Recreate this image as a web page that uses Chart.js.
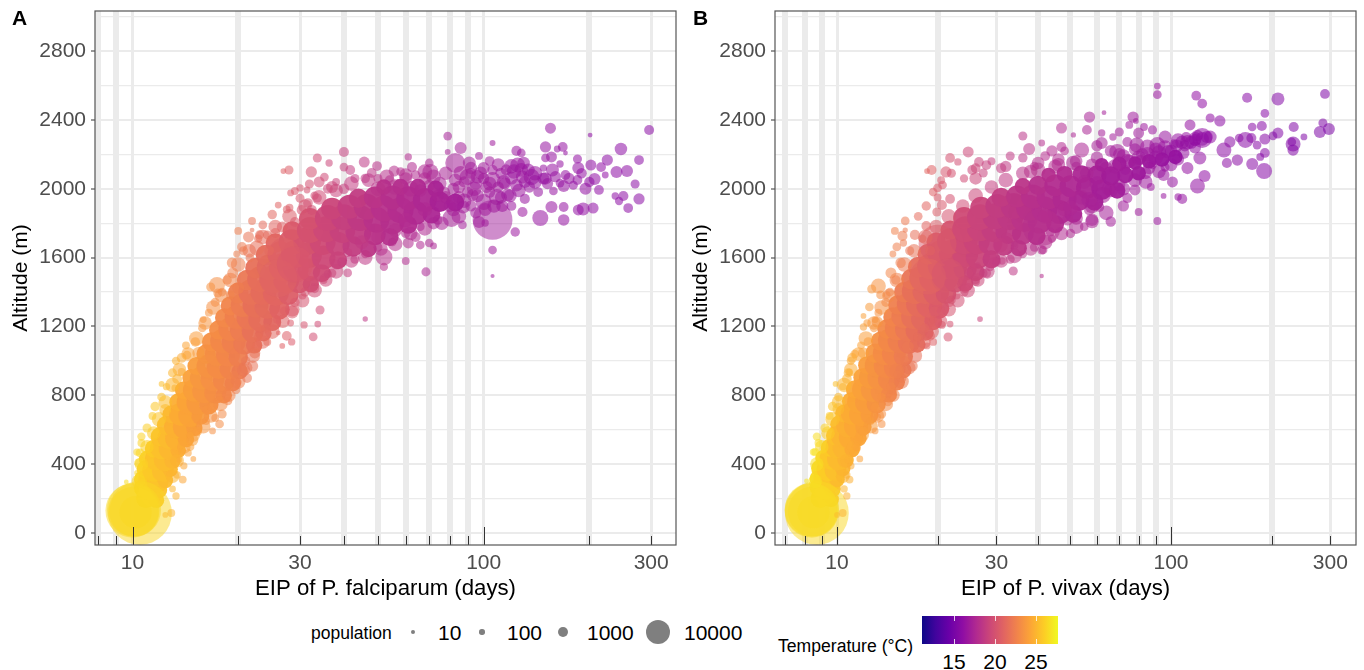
<!DOCTYPE html>
<html>
<head>
<meta charset="utf-8">
<title>EIP and altitude</title>
<script src="https://cdn.jsdelivr.net/npm/chart.js@4/dist/chart.umd.min.js"></script>
<style>
  html, body { margin: 0; padding: 0; background: #fff; }
  body { width: 1364px; height: 670px; position: relative; overflow: hidden; font-family: "Liberation Sans", Arial, sans-serif; color: #000; }
  canvas { position: absolute; top: 0; }
  #mpA { left: 0; }
  #mpB { left: 680px; }
  .tag { position: absolute; top: 7px; font-size: 21px; font-weight: bold; line-height: 22px; }
  .txt { position: absolute; white-space: nowrap; line-height: 24px; }
  .dot { position: absolute; border-radius: 50%; background: rgba(0,0,0,0.5); }
  #bar { position: absolute; left: 922px; top: 616px; width: 136px; height: 28px; }
  .barTick { position: absolute; width: 1px; height: 5px; background: rgba(255,255,255,0.8); }
</style>
</head>
<body>
<canvas id="mpA" width="680" height="605"></canvas>
<canvas id="mpB" width="680" height="605"></canvas>
<div class="tag" style="left:12px">A</div>
<div class="tag" style="left:693px">B</div>
<div id="legend"></div>
<div id="bar"></div>
<script>
// one row = [EIP days, altitude m, population, temperature C]
const coreA = [
[10.9,200,6000,26.1],[11.3,210,6000,25.9],[11.7,190,3500,25.7],[10.7,260,5000,26.2],[11.2,255,8000,25.9],[11.9,250,4000,25.6],
[10.7,310,5000,26.2],[11.2,315,9000,25.9],[11.8,300,8000,25.6],[12.4,305,3500,25.3],[10.9,370,5000,26.1],[11.5,365,9000,25.8],[12.2,360,8000,25.4],[12.8,370,3500,25.1],
[11,430,4000,26],[11.7,430,9000,25.6],[12.4,425,9000,25.3],[13,420,4000,25],[11.5,490,5000,25.8],[12.1,495,9000,25.5],[12.8,490,9000,25.1],[13.5,480,3500,24.7],
[12,560,6000,25.5],[12.7,555,9000,25.2],[13.4,550,10000,24.8],[14.2,545,4000,24.3],[12.5,625,6000,25.3],[13.3,620,10000,24.8],[14.1,615,10000,24.3],[15,610,4000,24],
[12.9,690,5000,25],[13.7,690,9000,24.6],[14.6,685,10000,24.2],[15.6,680,5000,23.8],[13.5,760,5000,24.7],[14.4,760,9000,24.2],[15.4,755,10000,23.8],[16.5,745,6000,23.4],
[14,830,5000,24.4],[15,830,9000,24],[16,825,10000,23.6],[17.2,815,8000,23.2],[18.2,800,4000,22.9],[14.7,900,5000,24.1],[15.7,900,9000,23.7],[16.9,895,10000,23.3],[18.2,885,8000,22.9],[19.3,870,4000,22.6],
[15.2,970,5000,23.9],[16.4,970,9000,23.4],[17.6,965,10000,23.1],[19,955,8000,22.7],[20.2,940,4000,22.3],[16.2,1040,6000,23.5],[17.4,1040,10000,23.2],[18.7,1035,10000,22.8],[20,1020,6000,22.4],
[16.8,1110,6000,23.3],[18,1115,10000,22.9],[19.4,1110,10000,22.5],[20.8,1100,8000,22.2],[22.2,1090,4000,21.8],[17.6,1180,6000,23.1],[19,1185,10000,22.7],[20.5,1180,10000,22.3],[22,1170,8000,21.8],[23.6,1160,4000,21.5],
[18.3,1250,6000,22.9],[19.8,1255,10000,22.5],[21.4,1250,10000,22],[23.1,1240,10000,21.6],[25,1225,5000,21.2],[19,1320,6000,22.7],[20.6,1325,10000,22.3],[22.4,1325,12000,21.7],[24.2,1320,12000,21.4],[26.2,1300,7000,21],
[20,1395,7000,22.4],[21.8,1400,12000,21.8],[23.6,1400,12000,21.5],[25.6,1395,12000,21.1],[27.8,1385,7000,20.7],[21.2,1470,7000,22.1],[23.1,1475,12000,21.6],[25.2,1475,14000,21.2],[27.4,1470,12000,20.8],[29.8,1460,9000,20.3],[32.2,1445,4000,19.9],
[22.4,1540,7000,21.7],[24.6,1545,12000,21.3],[26.8,1545,14000,20.9],[29.2,1540,12000,20.4],[31.8,1530,9000,20],[34.6,1510,5000,19.6],[24,1615,7000,21.4],[26.4,1620,12000,21],[29,1620,14000,20.5],[31.8,1615,12000,20],[35,1600,10000,19.5],[38.5,1585,5000,19.2],
[25.5,1685,6000,21.1],[28.4,1690,12000,20.6],[31.4,1695,14000,20.1],[34.8,1690,12000,19.6],[38.4,1680,10000,19.2],[42.4,1665,7000,18.8],[47,1650,4000,18.4],[28.5,1755,6000,20.5],[32,1760,12000,20],[35.6,1765,12000,19.5],[39.6,1760,12000,19.1],[44,1750,12000,18.7],[49,1735,8000,18.3],[54,1720,5000,18],
[32,1825,8000,20],[36,1830,12000,19.4],[40,1835,12000,19],[44.5,1830,12000,18.6],[49.5,1820,12000,18.2],[55,1805,10000,18],[61,1790,5000,17.8],[37,1885,8000,19.3],[41.5,1895,10000,18.9],[46.5,1895,12000,18.5],[52,1885,12000,18.1],[58,1875,12000,17.9],[64,1860,10000,17.7],[71,1850,5000,17.5],
[44,1945,6000,18.7],[49,1950,8000,18.3],[55,1950,10000,18],[61,1945,10000,17.8],[68,1935,10000,17.6],[75,1925,7000,17.3],[83,1920,5000,17.1],[52,2010,3500,18.1],[58,2010,4000,17.9],[65,2010,4000,17.7],[73,2000,4000,17.4]
];
const bigA = [
[10,130,60000,26.5],[10.1,125,50000,26.5],[10.2,120,20000,26.5],[10.1,135,60000,26.5],[10.5,116,85000,26.3],
[27,1620,20000,20.8],[26,1480,28000,21],[29,1560,25000,20.4],[106,1819,31000,16.9]
];
const softA = [
[10.4,300,2500,26.3],[10.6,400,2500,26.2],[11,500,2500,26],[11.5,580,2500,25.8],[11.9,660,3000,25.6],[12.4,760,2500,25.3],[13,860,3000,25],[13.6,950,2500,24.6],[14.4,1040,2500,24.2],[15.2,1130,3000,23.9],[16.1,1220,2500,23.6],[17,1310,3000,23.3],[17.9,1380,2500,23],[19,1470,3000,22.7],[20,1560,3000,22.4],[21.5,1640,2500,21.9],[23.5,1720,3000,21.5],[25.5,1780,2500,21.1],[28,1840,3000,20.6],[31,1900,2500,20],[34,1950,3000,19.6],[38,1990,2500,19.2],[42,2030,3000,18.8],[47,2050,2500,18.4],[53,2070,3000,18.1],[60,2080,2500,17.8],[68,2100,3000,17.6],
[13,330,2500,25],[13.4,420,2500,24.8],[14,500,2500,24.4],[14.9,570,2500,24],[15.9,620,3000,23.6],[16.7,680,2500,23.4],[17.8,750,3000,23.1],[18.8,800,2500,22.7],[20,880,3000,22.4],[21,960,2500,22],[22,1030,3000,21.8],[23.5,1110,2500,21.5],[25,1170,3000,21.2],[26.8,1230,2500,20.9],[28.5,1300,3000,20.5],[30.5,1350,2500,20.1],[33,1410,3000,19.7],[35.5,1470,2500,19.4],[38,1520,3000,19.2],[42,1580,2500,18.8],[46,1600,3000,18.5],[51,1650,2500,18.1],[56,1680,3000,18],[62,1740,2500,17.7],[68,1770,3000,17.6],[76,1800,2500,17.3],[85,1840,3000,17.1],
[82,1880,2500,17.1],[88,1930,3000,17],[94,2000,3000,17],[101,1880,2200,16.9],[107,1900,2500,16.8],[113,1900,1800,16.7],[119,1960,2200,16.6],[126,1990,2500,16.6],[92,2120,2000,17],[100,2120,1800,16.9],[110,2140,2200,16.8],[120,2130,3000,16.6],[130,2150,2000,16.5],[78,2090,2500,17.3],[72,2070,3000,17.4],[86,2090,3000,17.1],[96,2070,2500,16.9],[104,2030,2500,16.9],[114,2040,2500,16.7],[122,2100,3000,16.6],[140,2040,2500,16.5],[152,2030,1500,16.4],[160,2070,1500,16.4],[175,2060,1500,16.3],[190,2090,1200,16.2],[200,2040,1200,16.1],[62,2000,3500,17.7],[56,2010,3500,18],[50,2000,3000,18.2],[60,1820,3000,17.8],[68,1880,3000,17.6],[72,1800,2000,17.4],[56,1760,2500,18],[50,1720,2500,18.2],[45,1690,2500,18.6]
];
const slopeA = [
[33.6,2179,800,19.6],[36.3,2150,400,19.3],[27.9,2109,800,20.6],[26.9,2103,150,20.8],[32.3,2098,1500,19.9],[35.2,2068,700,19.5],[34,2040,1400,19.6],[31.9,2028,800,19.9],[30,2005,400,20.2],[29,1987,500,20.4],[28.2,1976,300,20.5],[31.4,1993,300,20],[37,2010,1800,19.3],[33.6,1946,800,19.6],[31.6,1917,1000,19.9],[30.3,1877,1000,20.1],[32.4,1877,1100,19.8],[29,1807,1000,20.4],[26.7,1778,1400,20.8],
[21.9,1813,500,21.8],[20,1755,500,22.4],[21.9,1760,60,21.8],[21.4,1720,1400,21.9],[23,1732,800,21.6],[24.2,1732,700,21.4],[25.5,1743,1000,21.1],[20.5,1662,1000,22.2],[19.8,1621,300,22.5],[22.6,1656,3200,21.7],[21.6,1598,700,21.9],[19.3,1511,1400,22.6],[17.4,1441,3800,23.2],[16.7,1429,800,23.4],[17.5,1394,800,23.1],[19,1383,700,22.7],[20,1423,1800,22.4],
[32.7,1139,700,19.8],[33.7,1214,300,19.6],[30.8,1209,400,20.1],[28.4,1110,400,20.5],[26.7,1087,150,20.8],[27.5,1145,1000,20.7],[28.2,1220,300,20.5],[34.2,1296,800,19.6],[28.5,1284,2200,20.5],[24.2,1110,500,21.4],[26,1162,60,21],[22.6,1081,1100,21.7],[22.3,1046,1400,21.8],[20.7,947,2200,22.1],[21.2,900,1000,22],[20,877,300,22.4],[19.7,831,700,22.5],[18.7,767,700,22.8],[18,691,800,23],[17.2,668,500,23.2],[17.7,633,700,23.1],[16.9,593,300,23.3],[16.3,715,1000,23.5],
[12.1,866,150,25.4],[14.3,1034,700,24.3],[13.8,1017,1000,24.5],[15.4,1046,1800,23.8],[13.8,936,500,24.5],[13.4,895,1000,24.8],[13.2,843,300,24.9],[12.4,715,1800,25.3],[10.6,523,500,26.2],[10.5,465,700,26.3],[10.4,407,700,26.3],[9.6,296,60,26.6],[10.3,349,150,26.3],[14.8,540,1800,24.1],[14.6,569,300,24.2],[13.8,471,300,24.5],[14.4,465,400,24.2],[14.9,430,150,24],[13.6,424,150,24.6],[13.4,337,400,24.8],[13,256,300,25],[13.3,215,400,24.8],[12.9,116,500,25],[12.4,105,150,25.3],
[31,1400,900,20],[33,1460,700,19.7],[36,1505,600,19.3],[38,1560,1000,19.2],[41,1630,800,18.9],[23.5,1790,700,21.5],[25,1850,900,21.2],[27.5,1880,500,20.7],[26,1905,300,21]
];
const fringeA = [
[10.3,470,400,26.3],[10.6,560,600,26.2],[11,610,800,26],[11.4,680,500,25.8],[11.6,735,900,25.7],[12.1,790,700,25.5],[12.5,850,400,25.3],[13,930,800,25],[13.3,1000,600,24.8],[14.2,1090,500,24.3],[15.1,1110,900,24],[15.8,1190,600,23.7],[16.5,1280,500,23.5],[15.9,1240,300,23.6],[17.2,1340,800,23.2],[18,1400,700,22.9],[18.6,1470,900,22.8],[19.2,1570,1200,22.6],[20.7,1640,800,22.2],[22.8,1710,600,21.7],[24.5,1640,1000,21.3],
[13.9,310,500,24.4],[14,390,400,24.4],[14.6,500,600,24.2],[15.3,590,900,23.9],[16.2,650,500,23.5],[16.8,730,800,23.4],[17.6,790,500,23.1],[18.8,850,700,22.7],[19.5,920,500,22.5],[21,1000,900,22],[22,970,1400,21.8],[22.8,1140,700,21.7],[24,1190,800,21.4],[25.8,1240,500,21],[27,1290,700,20.8],[29,1340,900,20.4],[30.5,1380,500,20.1],[33,1420,800,19.7],[35,1470,500,19.5],[37,1510,700,19.3],[39.5,1575,900,19],[43,1590,800,18.7],[46,1620,600,18.5],[50,1660,800,18.2],[55,1690,600,18],[60,1740,900,17.8],[66,1780,700,17.6],
[28,1890,500,20.6],[30,1945,800,20.2],[33,1960,600,19.7],[36,2000,1000,19.4],[38,2040,500,19.2],[40,2000,1200,19],[43,2060,800,18.7],[46,2060,900,18.5],[50,2060,800,18.2],[54,2050,1000,18],[58,2100,700,17.9],[64,2080,900,17.7],
[85,1950,2000,17.1],[92,1900,1500,17],[96,1960,2200,16.9],[104,1980,1500,16.9],[112,1950,1800,16.7],[78,1950,2000,17.3],[82,2000,1800,17.1],[88,2040,1500,17],[92,2090,1400,17],[100,2060,1500,16.9],[106,2110,1200,16.8],[116,2110,1400,16.7],[124,2020,2000,16.6],[128,2110,2500,16.6],[131,2040,1800,16.5],[140,2090,3000,16.5],[148,2060,1800,16.4],[74,1960,1800,17.4],[70,2020,1500,17.5],[66,1990,2000,17.6]
];
const plateauA = [
[296,2342,1070,15.9],[155,2352,1400,16.4],[201,2312,60,16.1],[79,2306,700,17.2],[106,2266,180,16.8],[86,2237,1800,17.1],[40,2214,1070,19],[246,2231,2000,16],[277,2167,1000,15.9],[256,2103,1800,16],[239,2098,1800,16],[270,2028,800,15.9],[277,1941,1500,15.9],[250,1958,1100,16],[258,1888,1000,16],[237,1958,400,16],[243,1929,600,16],
[145,1830,3800,16.4],[156,1894,1800,16.4],[169,1819,1600,16.3],[205,1888,1400,16.1],[192,1883,2200,16.2],[186,1877,1400,16.2],[169,1894,1000,16.3],[123,1749,900,16.6],[106,1644,700,16.8],[106,1493,20,16.8],[68.5,1517,800,17.5],[46,1243,110,18.5],[60,1580,500,17.8],[52,1546,600,18.1],[41,1511,700,18.9],[52,1604,4400,18.1],[61,1685,1400,17.8],[64,1720,1100,17.7],[70,1685,700,17.5],[72,1668,300,17.4],[66,1673,700,17.6],[81,1830,5000,17.2],[129,1865,1100,16.6],
[61,2185,400,17.8],[79,2214,150,17.2],[97,2191,500,16.9],[83,2150,6500,17.1],[91,2150,2200,17],[104,2161,1000,16.9],[124,2220,1100,16.6],[128,2208,700,16.6],[150,2243,1500,16.4],[168,2243,1000,16.3],[162,2231,300,16.3],[171,2208,60,16.3],[156,2185,1400,16.4],[150,2179,700,16.4],[185,2173,800,16.2],[225,2167,1500,16],[202,2138,1400,16.1],[216,2126,1000,16.1],
[125,2138,3200,16.6],[134,2109,2200,16.5],[148,2120,400,16.4],[165,2144,400,16.3],[157,2109,2200,16.4],[186,2120,1800,16.2],[171,2080,1000,16.3],[185,2051,1000,16.2],[207,2057,1800,16.1],[195,2000,1800,16.2],[213,1993,1000,16.1],[222,2080,300,16.1],[158,1987,700,16.4],[143,1981,1000,16.4],[169,2016,1800,16.3],[165,2033,700,16.3],[137,2068,3800,16.5],[129,2068,2200,16.6],[120,2062,2200,16.6],[115,2030,1800,16.7],
[109,1952,3800,16.8],[100,1923,3800,16.9],[117,1964,2200,16.7],[131,1941,1100,16.5],[106,2051,3800,16.8],[98,2092,2200,16.9],[90,2068,3800,17],[83,2051,2200,17.1],[87.5,1894,2200,17],[97,1807,1800,16.9],[74,1819,1000,17.4],[87,1790,700,17],[101,1801,400,16.9],[93,1964,1800,17],[102,2010,1800,16.9],[77,1976,2200,17.3],[70.5,2098,3800,17.5],[70,2150,700,17.5],[62.5,2126,1100,17.7],[55.6,2103,1400,18],[49.7,2132,1000,18.2],[45.7,2155,1400,18.5],[48,2092,1000,18.4],[41.7,2109,1000,18.8],[40,2126,700,19],
[90,1980,1500,17],[85,2010,2000,17.1],[110,2010,1500,16.8],[75,2030,2500,17.3],[68,2060,2000,17.6],[60,2060,2000,17.8],[95,2030,2000,16.9],[112,2090,1500,16.7],[80,1900,1800,17.2],[95,1860,1500,16.9],[75,1900,1500,17.3],[120,1900,1000,16.6],[135,2010,1500,16.5],[150,2060,2000,16.4],[180,2020,800,16.2]
];

const coreB = [
[8.9,200,6000,26.4],[9.2,215,6000,26.2],[9.6,195,3500,25.7],[8.8,265,5000,26.5],[9.2,260,8000,26.2],[9.7,255,4000,25.6],
[8.8,315,5000,26.5],[9.2,320,9000,26.2],[9.6,305,8000,25.7],[10,310,3500,25.3],[8.9,375,5000,26.4],[9.4,370,9000,25.9],[9.9,365,8000,25.4],[10.4,375,3500,25],
[9.1,435,4000,26.3],[9.6,435,9000,25.7],[10.1,430,9000,25.2],[10.6,425,4000,24.9],[9.5,495,5000,25.8],[10,500,9000,25.3],[10.5,495,9000,25],[11.1,485,3500,24.6],
[9.9,565,6000,25.4],[10.4,560,9000,25],[11,555,10000,24.6],[11.6,550,4000,24.3],[10.2,630,6000,25.1],[10.8,625,10000,24.7],[11.4,620,10000,24.4],[12,615,4000,24.1],
[10.5,695,5000,25],[11.1,695,9000,24.6],[11.8,690,10000,24.2],[12.5,685,5000,23.9],[11,765,5000,24.6],[11.6,765,9000,24.3],[12.3,760,10000,23.9],[13.1,750,6000,23.5],
[11.3,835,5000,24.4],[12,835,9000,24.1],[12.8,830,10000,23.7],[13.6,820,8000,23.3],[14.3,805,4000,22.9],[11.9,905,5000,24.1],[12.6,905,9000,23.8],[13.4,900,10000,23.4],[14.3,890,8000,22.9],[15.1,875,4000,22.6],
[12.3,975,5000,23.9],[13.1,975,9000,23.5],[14,970,10000,23],[14.9,960,8000,22.7],[15.8,945,4000,22.3],[13,1045,6000,23.6],[13.9,1045,10000,23.1],[14.8,1040,10000,22.7],[15.8,1025,6000,22.3],
[13.5,1115,6000,23.3],[14.4,1120,10000,22.9],[15.4,1115,10000,22.4],[16.4,1105,8000,22],[17.4,1095,4000,21.6],[14.1,1185,6000,23],[15.1,1190,10000,22.6],[16.2,1185,10000,22.1],[17.3,1175,8000,21.6],[18.4,1165,4000,21.2],
[14.7,1255,6000,22.7],[15.8,1260,10000,22.3],[16.9,1255,10000,21.8],[18.1,1245,10000,21.3],[19.4,1230,5000,20.8],[15.2,1325,6000,22.5],[16.4,1330,10000,22],[17.6,1330,12000,21.5],[18.9,1325,12000,21],[20.2,1305,7000,20.5],
[15.9,1400,7000,22.2],[17.1,1405,12000,21.7],[18.4,1405,12000,21.2],[19.8,1400,12000,20.7],[21.2,1390,7000,20.2],[16.7,1475,7000,21.9],[18,1480,12000,21.4],[19.4,1480,14000,20.8],[21,1475,12000,20.3],[22.6,1465,9000,19.9],[24.2,1450,4000,19.6],
[17.5,1545,7000,21.5],[19,1550,12000,21],[20.6,1550,14000,20.4],[22.4,1545,12000,20],[24.2,1535,9000,19.6],[26,1515,5000,19.3],[18.7,1620,7000,21.1],[20.4,1625,12000,20.5],[22.2,1625,14000,20],[24.2,1620,12000,19.6],[26.4,1605,10000,19.3],[29,1590,5000,18.9],
[19.8,1690,6000,20.6],[21.8,1695,12000,20.1],[24,1700,14000,19.6],[26.2,1695,12000,19.3],[28.8,1685,10000,18.9],[31.6,1670,7000,18.7],[35,1655,4000,18.4],[21.8,1760,6000,20.1],[24.2,1765,12000,19.6],[26.8,1770,12000,19.2],[29.6,1765,12000,18.9],[32.6,1755,12000,18.6],[36,1740,8000,18.3],[39.6,1725,5000,18],
[24,1830,8000,19.6],[26.8,1835,12000,19.2],[29.8,1840,12000,18.8],[33,1835,12000,18.6],[36.4,1825,12000,18.3],[40.4,1810,10000,18],[45,1795,5000,17.8],[27,1890,8000,19.2],[30.2,1900,10000,18.8],[33.8,1900,12000,18.5],[37.6,1890,12000,18.2],[41.8,1880,12000,17.9],[46.4,1865,10000,17.7],[51,1855,5000,17.5],
[31,1950,6000,18.7],[34.6,1955,8000,18.4],[38.6,1955,10000,18.1],[43,1950,10000,17.9],[48,1940,10000,17.7],[53,1930,7000,17.5],[59,1925,5000,17.2],[36,2015,4000,18.3],[40,2020,6000,18],[45,2020,8000,17.8],[50,2015,8000,17.6],[56,2005,8000,17.4],[62,1995,7000,17.1],[69,1990,4000,17],
[43,2080,3000,17.9],[48,2085,4000,17.7],[54,2085,5000,17.5],[60,2080,6000,17.2],[66,2075,6000,17],[73,2080,4000,16.9],[80,2090,3000,16.8],[62,2140,2500,17.1],[70,2145,3000,17],[78,2150,2500,16.8],[86,2160,3000,16.7],[94,2170,3000,16.5],[103,2185,3000,16.4]
];
const bigB = [
[8.4,130,60000,26.6],[8.45,125,50000,26.6],[8.5,120,20000,26.6],[8.4,135,60000,26.6],[8.7,116,85000,26.4],
[20,1680,28000,20.5],[18.7,1490,25000,21.1],[21.5,1500,20000,20.2],[41,1778,28000,18]
];
const softB = [
[8.6,300,2500,26.7],[8.7,400,2500,26.6],[9,500,2500,26.3],[9.4,580,2500,25.9],[9.7,660,3000,25.6],[10.1,760,2500,25.2],[10.5,860,3000,25],[11,950,2500,24.6],[11.6,1040,2500,24.3],[12.2,1130,3000,24],[12.9,1220,2500,23.7],[13.6,1310,3000,23.3],[14.3,1380,2500,22.9],[15.1,1470,3000,22.6],[15.9,1560,3000,22.2],[17,1640,2500,21.8],[18.4,1720,3000,21.2],[19.8,1780,2500,20.6],[21.6,1840,3000,20.1],[23.8,1900,2500,19.6],[26,1960,3000,19.3],[29,2010,2500,18.9],[32,2050,3000,18.6],[36,2090,2500,18.3],[40,2110,3000,18],[45,2130,2500,17.8],[51,2150,3000,17.5],
[10.4,330,2500,25],[10.7,420,2500,24.8],[11.2,500,2500,24.5],[11.9,570,2500,24.1],[12.6,620,3000,23.8],[13.2,680,2500,23.4],[14,750,3000,23],[14.7,800,2500,22.7],[15.6,880,3000,22.3],[16.4,960,2500,22],[17.1,1030,3000,21.7],[18.2,1110,2500,21.2],[19.2,1170,3000,20.9],[20.4,1230,2500,20.4],[21.6,1300,3000,20.1],[23,1350,2500,19.8],[24.6,1410,3000,19.5],[26.4,1470,2500,19.3],[28.2,1520,3000,19],[31,1580,2500,18.7],[34,1610,3000,18.4],[38,1650,2500,18.2],[42,1690,3000,17.9],[47,1740,2500,17.7],[52,1780,3000,17.5],[58,1810,2500,17.3],[64,1860,3000,17.1],
[68,2130,3000,17],[74,2160,3000,16.9],[80,2180,3000,16.8],[85,2200,3000,16.7],[92,2210,3000,16.6],[96,2240,3000,16.5],[105,2280,3000,16.4],[112,2270,3000,16.3],[118,2290,2500,16.2],[124,2290,2500,16.1],[60,2030,3000,17.2],[66,1990,2500,17],[72,2000,2500,16.9],[78,2050,2500,16.8],[84,2040,2500,16.7],[92,2100,2500,16.6],[54,1950,3000,17.5],[58,1900,3000,17.3],[48,1880,2500,17.7],[42,1840,3000,17.9],[52,1830,2500,17.5],[58,1820,2000,17.3],[46,2140,2500,17.7],[38,2100,2500,18.1],[32,2130,1500,18.6],[26,2060,2000,19.3],[70,2200,2000,17],[60,2250,1500,17.2]
];
const slopeB = [
[24.7,2214,1400,19.4],[21.8,2179,1000,20],[23,2156,400,19.8],[19.2,2109,1000,20.9],[18.6,2103,150,21.1],[21.2,2098,1500,20.2],[26.6,2156,1000,19.2],[28,2138,1000,19],[25.4,2109,1000,19.3],[27.4,2092,800,19.1],[20.7,2022,700,20.4],[19.4,1981,700,20.8],[20,2005,700,20.5],[21.8,1941,1000,20],[20.6,1906,1100,20.4],[19.9,1865,800,20.6],
[16,1813,700,22.2],[14.9,1755,500,22.6],[15.7,1726,1100,22.3],[17.1,1732,1100,21.7],[16,1760,100,22.2],[18.5,1784,1000,21.1],[15.1,1662,700,22.5],[14.7,1621,300,22.7],[15.8,1685,400,22.3],[14.5,1511,1400,22.8],[13.3,1435,3200,23.4],[12.7,1418,800,23.7],[13.5,1383,700,23.3],[14.1,1383,400,23],[12.5,1313,700,23.8],[12,1261,150,24.1],[12.3,1220,400,23.9],[12,1197,400,24.1],[13.2,1226,1500,23.4],
[26.8,1243,150,19.2],[21.5,1139,800,20.1],[21.8,1214,300,20],[20.6,1209,500,20.4],[19.2,1220,400,20.9],[19.6,1284,1400,20.7],[22,1354,700,20],[24.8,1511,700,19.4],[23.8,1464,700,19.6],[18.6,1087,300,21.1],[19.4,1110,500,20.8],[19,1145,1000,21],[17.4,1133,500,21.6],[17.8,1139,150,21.4],[16.3,1081,1800,22.1],[15.1,941,3200,22.5],[15.6,900,1000,22.3],[14.7,825,400,22.7],[14.2,761,700,22.9],[13.6,691,800,23.3],[13.2,674,400,23.4],[13.6,633,500,23.3],
[9.9,866,150,25.4],[11.3,1040,700,24.4],[11.1,1017,1000,24.6],[12,1046,1400,24.1],[10.9,936,300,24.7],[10.7,895,1000,24.8],[10.1,720,1800,25.2],[8.8,523,500,26.5],[8.6,471,500,26.7],[13,593,300,23.6],[11.6,540,1100,24.3],[11.5,494,400,24.3],[11.7,430,300,24.2],[11.2,465,400,24.5],[10.8,424,400,24.7],[10.7,337,400,24.8],[10.5,256,400,25],[10.7,215,400,24.8],[10.4,116,500,25],[10,105,150,25.3],[8.1,302,60,27],
[24,1400,800,19.6],[26,1460,700,19.3],[28,1510,900,19],[30,1575,800,18.8],[17.5,1840,700,21.5],[18.5,1900,900,21.1],[20,1950,500,20.5]
];
const fringeB = [
[8.5,470,400,26.8],[8.7,560,600,26.6],[9.2,610,800,26.2],[9.5,680,500,25.8],[9.7,735,900,25.6],[10.1,790,700,25.2],[10.4,850,400,25],[10.8,930,800,24.8],[11,1000,600,24.6],[11.8,1090,500,24.2],[12.4,1110,900,23.9],[12.9,1190,600,23.7],[13.3,1280,500,23.4],[13,1240,300,23.6],[14,1340,800,23],[14.4,1400,700,22.8],[15,1470,900,22.6],[15.5,1570,1200,22.4],[16.5,1640,800,22],[18,1710,600,21.3],[19,1640,1000,21],
[10.9,310,500,24.7],[11,390,400,24.6],[11.4,500,600,24.4],[12,590,900,24.1],[12.6,650,500,23.8],[13,730,800,23.6],[13.6,790,500,23.3],[14.5,850,700,22.8],[15.2,920,500,22.5],[16,1000,900,22.2],[16.8,970,1400,21.9],[17.4,1140,700,21.6],[18.3,1190,800,21.2],[19.4,1240,500,20.8],[20.5,1290,700,20.4],[21.7,1340,900,20.1],[22.8,1380,500,19.9],[24.2,1420,800,19.6],[26,1470,500,19.3],[27.4,1510,700,19],[29.5,1575,900,18.8],[33,1590,800,18.6],[36,1620,600,18.3],[39,1660,800,18],[44,1710,600,17.8],[50,1740,900,17.6],[55,1780,700,17.4],
[20.5,2050,500,20.4],[22,2090,800,20],[24,2060,600,19.6],[26,2120,1000,19.3],[29,2160,500,18.9],[31,2120,1200,18.7],[33,2190,800,18.6],[36,2180,900,18.3],[39,2130,800,18],[42,2190,1000,17.9],[48,2220,700,17.7],[52,2130,900,17.5],
[75,2160,2500,16.9],[82,2200,2000,16.7],[90,2230,2500,16.6],[100,2220,2000,16.4],[108,2270,2500,16.3],[115,2270,2200,16.2],[120,2310,1500,16.2],[60,2180,2000,17.2],[66,2220,1800,17],[72,2190,2500,16.9],[78,2230,1800,16.8],[86,2120,2000,16.7],[95,2080,1800,16.5],[100,2140,2200,16.4],[105,2170,1800,16.4],[56,2090,2500,17.4],[64,2120,2200,17.1]
];
const plateauB = [
[30.8,1673,3200,18.8],[32.3,1714,1400,18.6],[34,1679,150,18.4],[28.7,1546,700,18.9],[28.7,1604,2200,18.9],[31.2,1580,400,18.7],[33.7,1522,800,18.5],[41.4,1644,700,17.9],[41,1493,30,17.9],[26.4,1557,150,19.2],
[91,2597,300,16.6],[91,2547,700,16.6],[119,2541,1000,16.2],[124,2495,1000,16.1],[169,2529,1100,15.8],[209,2522,2200,15.6],[289,2551,1000,15.3],[191,2438,700,15.7],[63,2442,60,17.1],[57,2417,1500,17.3],[77,2417,1500,16.8],[47,2353,1400,17.7],[36,2307,800,18.3],[41,2266,300,17.9],[51,2313,100,17.5],[56,2342,1000,17.4],[62,2324,400,17.1],[70,2330,800,17],[67,2301,400,17],[75,2371,500,16.9],[78.5,2394,150,16.8],[83,2359,500,16.7],[88,2342,800,16.6],[80,2324,1400,16.8],
[114,2371,1400,16.3],[131,2411,800,16.1],[140,2394,1500,16],[187,2365,1100,15.7],[175,2359,700,15.8],[233,2359,1100,15.5],[285,2382,800,15.3],[279,2330,1800,15.3],[297,2347,1800,15.2],[250,2301,300,15.4],[209,2324,1400,15.6],[191,2289,1400,15.7],[202,2307,700,15.6],[181,2254,700,15.7],[174,2295,1100,15.8],[167,2284,3800,15.8],[160,2295,700,15.9],[150,2272,1500,15.9],[144,2225,3200,16],[147,2150,1100,16],[158,2167,1500,15.9],[191,2208,1000,15.7],[185,2185,500,15.7],[175,2144,1800,15.8],[190,2103,3800,15.7],[232,2260,3200,15.5],[232,2225,1500,15.5],[230,2272,700,15.5],
[131,2301,2200,16.1],[124,2295,6500,16.1],[128,2301,1800,16.1],[118,2284,1800,16.2],[111,2301,1100,16.3],[102,2260,1000,16.4],[96,2301,2200,16.5],[91,2254,3800,16.6],[85,2243,3200,16.7],[79,2254,3200,16.8],[74,2272,1100,16.9],[69,2214,3800,17],[62,2266,1800,17.1],[54,2225,3200,17.5],[47,2243,1100,17.7],[44,2220,1500,17.8],[37.6,2231,1800,18.2],
[109,2208,1800,16.3],[122,2179,2200,16.2],[112,2120,1800,16.3],[126,2074,1800,16.1],[120,2016,3200,16.2],[101,2040,1400,16.4],[87,2010,500,16.6],[95,1958,150,16.5],[108,1941,1100,16.3],[105,1952,400,16.4],[91,1813,500,16.6],[80,1865,500,16.8],[74,1946,1100,16.9],[96,2126,800,16.5],[88,2138,700,16.6],[84,2092,1800,16.7],[78,1993,1400,16.8],[70,2022,1800,17],[73,2109,1000,16.9],[81,2167,1100,16.8],[66,2068,3800,17],[62.5,1964,3800,17.1],[57,1935,3800,17.3],[61,1894,1000,17.2],[57,1877,1400,17.3],[50,1888,3200,17.6],[49,1819,1500,17.6],[41,1644,800,17.9],[43.5,1749,800,17.8],[34,1673,500,18.4],
[98,2215,2500,16.5],[104,2250,2000,16.4],[90,2180,3000,16.6],[110,2250,1500,16.3],[118,2240,1800,16.2],[58,2140,2000,17.3],[52,2160,2000,17.5],[46,2170,2000,17.7],[40,2150,2000,17.9],[65,2000,2500,17.1],[55,2040,2500,17.4],[72,1900,1500,16.9],[66,1810,1200,17]
];

const eipTicksA = [8,9,10,20,30,40,50,60,70,80,90,100,200,300];
const eipTicksB = [7,8,9,10,20,30,40,50,60,70,80,90,100,200,300];
const eipLabels = [10,30,100,300];
const eipLongTicks = [10,100];
const altTicks = [0,200,400,600,800,1000,1200,1400,1600,1800,2000,2200,2400,2600,2800,3000];
const altLabels = [0,400,800,1200,1600,2000,2400,2800];
const popLegend = [10,100,1000,10000];
const popLegendX = [413,482,563,658];
const popLabelX = [438,507,587,684];
const tempLabels = [15,20,25];
const tempLabelX = [954,995,1036];
const tempMin = 11.1;
const tempMax = 27.7;
const plasma = ['#0d0887','#41049d','#6a00a8','#8f0da4','#b12a90','#cc4778','#e16462','#f1844b','#fca636','#fcce25','#f0f921'];

function popRadius(pop) {
  return 1.6 + Math.sqrt(pop) * 0.104;
}

function tempColor(temp, alpha) {
  const pos = Math.min(0.999, Math.max(0, (temp - tempMin) / (tempMax - tempMin))) * (plasma.length - 1);
  const i = Math.floor(pos);
  const t = pos - i;
  const a = parseInt(plasma[i].slice(1), 16);
  const b = parseInt(plasma[i + 1].slice(1), 16);
  const r = Math.round((a >> 16) + ((b >> 16) - (a >> 16)) * t);
  const g = Math.round(((a >> 8) & 255) + (((b >> 8) & 255) - ((a >> 8) & 255)) * t);
  const bl = Math.round((a & 255) + ((b & 255) - (a & 255)) * t);
  return 'rgba(' + r + ',' + g + ',' + bl + ',' + alpha + ')';
}

function bubbles(rows, alpha, order) {
  return {
    data: rows.map(function(p) { return {x: p[0], y: p[1], r: popRadius(p[2])}; }),
    backgroundColor: rows.map(function(p) { return tempColor(p[3], alpha); }),
    borderWidth: 0,
    order: order
  };
}

const panelFrame = {
  id: 'panelFrame',
  afterDatasetsDraw(chart) {
    const c = chart.ctx;
    const area = chart.chartArea;
    const xs = chart.scales.x;
    c.save();
    c.strokeStyle = '#333';
    c.lineWidth = 1;
    xs.ticks.forEach(function(t) {
      const px = Math.round(xs.getPixelForValue(t.value)) + 0.5;
      const len = eipLongTicks.includes(t.value) ? 18 : 9;
      c.beginPath();
      c.moveTo(px, area.bottom);
      c.lineTo(px, area.bottom - len);
      c.stroke();
    });
    c.strokeStyle = '#555';
    c.lineWidth = 1.2;
    c.strokeRect(area.left, area.top, area.width, area.height);
    c.restore();
  }
};

function makePanel(id, core, big, scatter, xMin, xMax, xTicks, xTitle) {
  return new Chart(document.getElementById(id), {
    type: 'bubble',
    data: {
      datasets: [bubbles(scatter, 0.55, 1), bubbles(big, 0.5, 2), bubbles(core, 0.95, 3)]
    },
    plugins: [panelFrame],
    options: {
      responsive: false,
      animation: false,
      events: [],
      layout: {autoPadding: false, padding: {top: 11, right: 4, left: 0, bottom: 0}},
      plugins: {legend: {display: false}, tooltip: {enabled: false}},
      scales: {
        x: {
          type: 'logarithmic',
          min: xMin,
          max: xMax,
          afterBuildTicks: function(s) { s.ticks = xTicks.map(function(v) { return {value: v}; }); },
          afterFit: function(s) { s.height = 60; },
          border: {display: false},
          grid: {
            drawTicks: false,
            color: '#ebebeb',
            lineWidth: function(ctx) { return eipLabels.includes(ctx.tick && ctx.tick.value) ? 3 : 6; }
          },
          ticks: {
            autoSkip: false,
            maxRotation: 0,
            padding: 6,
            color: '#4d4d4d',
            font: {family: '"Liberation Sans", Arial, sans-serif', size: 21},
            callback: function(v) { return eipLabels.includes(v) ? String(v) : ''; }
          },
          title: {
            display: true,
            text: xTitle,
            color: '#000',
            font: {family: '"Liberation Sans", Arial, sans-serif', size: 22.2},
            padding: {top: 0, bottom: 3}
          }
        },
        y: {
          min: -70,
          max: 3033,
          afterBuildTicks: function(s) { s.ticks = altTicks.map(function(v) { return {value: v}; }); },
          afterFit: function(s) { s.width = 95; s.paddingTop = 0; s.paddingBottom = 0; },
          border: {display: false},
          grid: {
            color: '#ebebeb',
            lineWidth: function(ctx) { return altLabels.includes(ctx.tick && ctx.tick.value) ? 2 : 1.2; },
            tickLength: 4,
            tickWidth: 1,
            tickColor: function(ctx) { return altLabels.includes(ctx.tick && ctx.tick.value) ? '#333' : 'rgba(0,0,0,0)'; }
          },
          ticks: {
            autoSkip: false,
            padding: 5,
            color: '#4d4d4d',
            font: {family: '"Liberation Sans", Arial, sans-serif', size: 21},
            callback: function(v) { return altLabels.includes(v) ? String(v) : ''; }
          },
          title: {
            display: true,
            text: 'Altitude (m)',
            color: '#000',
            font: {family: '"Liberation Sans", Arial, sans-serif', size: 21},
            padding: {top: 9, bottom: 0}
          }
        }
      }
    }
  });
}

makePanel('mpA', coreA, bigA, softA.concat(slopeA, fringeA, plateauA), 7.82, 353, eipTicksA, 'EIP of P. falciparum (days)');
makePanel('mpB', coreB, bigB, softB.concat(slopeB, fringeB, plateauB), 6.52, 358, eipTicksB, 'EIP of P. vivax (days)');

// legends
const legend = document.getElementById('legend');
function addText(text, x, y, size, anchorCenter) {
  const el = document.createElement('div');
  el.className = 'txt';
  el.textContent = text;
  el.style.left = x + 'px';
  el.style.top = (y - 12) + 'px';
  el.style.fontSize = size + 'px';
  if (anchorCenter) el.style.transform = 'translateX(-50%)';
  legend.appendChild(el);
}
addText('population', 311, 633, 17.5);
popLegend.forEach(function(pop, i) {
  const r = popRadius(pop);
  const d = document.createElement('div');
  d.className = 'dot';
  d.style.left = (popLegendX[i] - r) + 'px';
  d.style.top = (632 - r) + 'px';
  d.style.width = d.style.height = (2 * r) + 'px';
  legend.appendChild(d);
  addText(String(pop), popLabelX[i], 633, 21);
});
addText('Temperature (°C)', 778, 646, 17.6);
const bar = document.getElementById('bar');
bar.style.background = 'linear-gradient(to right,' + plasma.join(',') + ')';
tempLabels.forEach(function(t, i) {
  addText(String(t), tempLabelX[i], 662, 21, true);
  [0, 23].forEach(function(top) {
    const m = document.createElement('div');
    m.className = 'barTick';
    m.style.left = (tempLabelX[i] - 922) + 'px';
    m.style.top = top + 'px';
    bar.appendChild(m);
  });
});
</script>
</body>
</html>
